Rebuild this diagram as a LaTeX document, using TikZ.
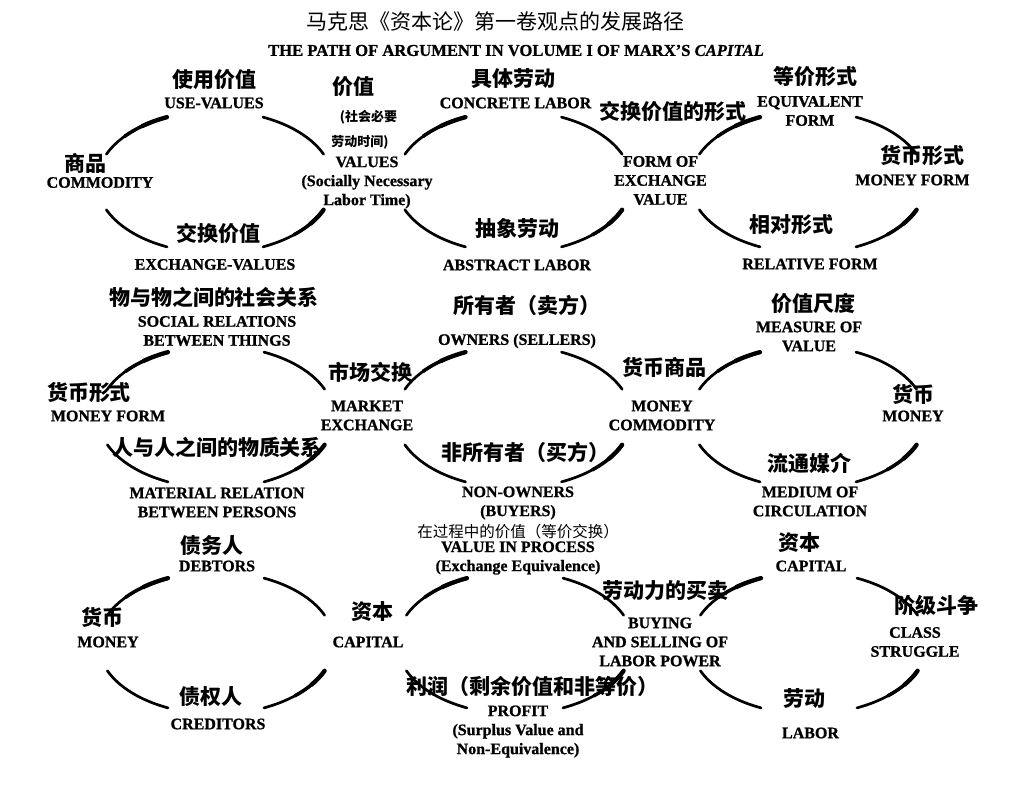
\documentclass[tikz,border=0pt]{standalone}
\usepackage{fontspec}
\setmainfont{Liberation Serif}[BoldFeatures={FakeBold=1},BoldItalicFeatures={FakeBold=1}]
\newfontfamily\cjk{Noto Sans CJK SC}
\begin{document}
\begin{tikzpicture}[x=1pt,y=-1pt,
  en/.style={font=\bfseries\fontsize{16}{19}\selectfont, align=center, inner sep=0pt},
  zh/.style={font=\cjk\bfseries\fontsize{21}{24}\selectfont, inner sep=0pt},
  zhs/.style={font=\cjk\bfseries\fontsize{13}{15}\selectfont, inner sep=0pt},
  zhr/.style={font=\cjk\fontsize{15.5}{18}\selectfont, inner sep=0pt},
  arcline/.style={line width=2.7pt, line cap=round},
  arcmid/.style={line width=3.5pt, line cap=round},
  arcthick/.style={line width=4.3pt, line cap=round}]
\useasboundingbox[fill=white] (0,0) rectangle (1029,803);

% titles
\node[font=\cjk\fontsize{21}{24}\selectfont, inner sep=0pt] (title) at (495.5,21.5) {马克思《资本论》第一卷观点的发展路径};
\node[en, font=\bfseries\fontsize{16.6}{19}\selectfont] (subtitle) at (516,50.5) {THE PATH OF ARGUMENT IN VOLUME I OF MARX’S \textit{CAPITAL}};

% ellipse arcs (brush-like strokes)
\foreach \cx/\cy in {215/182, 513.5/182, 808/182, 216/417, 513.5/417, 808/417, 216/643, 515/643, 809/643}{
  \foreach \sa/\ea in {203/246, 294/337, 23/66, 114/157}{
    \draw[arcline] plot[domain=\sa:\ea, samples=30, variable=\t] ({\cx+118*cos(\t)},{\cy+71*sin(\t)});
  }
  \draw[arcmid] plot[domain=220:246, samples=15, variable=\t] ({\cx+118*cos(\t)},{\cy+71*sin(\t)});
  \draw[arcthick] plot[domain=232:246, samples=10, variable=\t] ({\cx+118*cos(\t)},{\cy+71*sin(\t)});
  \draw[arcmid] plot[domain=23:48, samples=15, variable=\t] ({\cx+118*cos(\t)},{\cy+71*sin(\t)});
  \draw[arcthick] plot[domain=23:36, samples=10, variable=\t] ({\cx+118*cos(\t)},{\cy+71*sin(\t)});
}

% row 1
\node[zh] (zUse) at (214,80) {使用价值};
\node[en] (eUse) at (214,103) {USE-VALUES};
\node[zh] (zCom) at (85,163.5) {商品};
\node[en] (eCom) at (100,182.5) {COMMODITY};
\node[zh] (zExv) at (218.5,233.5) {交换价值};
\node[en] (eExv) at (215,264.5) {EXCHANGE-VALUES};
\node[zh] (zVal) at (353,86.5) {价值};
\node[zhs] (zVal2) at (368.5,117.5) {(社会必要};
\node[zhs] (zVal3) at (360,142.5) {劳动时间)};
\node[en] (eVal) at (367,182.5) {VALUES\\(Socially Necessary\\Labor Time)};
\node[zh] (zCon) at (513,78.5) {具体劳动};
\node[en] (eCon) at (515.5,103) {CONCRETE LABOR};
\node[zh] (zAbs) at (517.5,228.5) {抽象劳动};
\node[en] (eAbs) at (517,265) {ABSTRACT LABOR};
\node[zh] (zFor) at (672.5,111) {交换价值的形式};
\node[en] (eFor) at (660.5,180.5) {FORM OF\\EXCHANGE\\VALUE};
\node[zh] (zEqu) at (815,76.5) {等价形式};
\node[en] (eEqu) at (810,111) {EQUIVALENT\\FORM};
\node[zh] (zMf) at (922,155.5) {货币形式};
\node[en] (eMf) at (912.5,180) {MONEY FORM};
\node[zh] (zRel) at (791.5,225) {相对形式};
\node[en] (eRel) at (810,264) {RELATIVE FORM};

% row 2
\node[zh] (zSoc) at (214,297) {物与物之间的社会关系};
\node[en] (eSoc) at (217,331) {SOCIAL RELATIONS\\BETWEEN THINGS};
\node[zh] (zMf2) at (89,393) {货币形式};
\node[en] (eMf2) at (108,416) {MONEY FORM};
\node[zh] (zMkt) at (370,372) {市场交换};
\node[en] (eMkt) at (367,415.5) {MARKET\\EXCHANGE};
\node[zh] (zMat) at (217,447) {人与人之间的物质关系};
\node[en] (eMat) at (217,502.5) {MATERIAL RELATION\\BETWEEN PERSONS};
\node[zh] (zOwn) at (527,305) {所有者（卖方）};
\node[en] (eOwn) at (517,341) {OWNERS (SELLERS)};
\node[zh] (zMc) at (664,367) {货币商品};
\node[en] (eMc) at (662,415.5) {MONEY\\COMMODITY};
\node[zh] (zNon) at (525,452) {非所有者（买方）};
\node[en] (eNon) at (518,503) {NON-OWNERS\\(BUYERS)};
\node[zh] (zMea) at (813,304) {价值尺度};
\node[en] (eMea) at (809,336.5) {MEASURE OF\\VALUE};
\node[zh] (zMon) at (913,394) {货币};
\node[en] (eMon) at (913,416) {MONEY};
\node[zh] (zMed) at (809,463) {流通媒介};
\node[en] (eMed) at (810,501.5) {MEDIUM OF\\CIRCULATION};

% row 3
\node[zhr] (zVip) at (518,532) {在过程中的价值（等价交换）};
\node[en] (eVip) at (518,558) {VALUE IN PROCESS\\(Exchange Equivalence)};
\node[zh] (zBuy) at (665,591) {劳动力的买卖};
\node[en] (eBuy) at (660,642) {BUYING\\AND SELLING OF\\LABOR POWER};
\node[zh] (zPro) at (532,686) {利润（剩余价值和非等价）};
\node[en] (ePro) at (518,731.5) {PROFIT\\(Surplus Value and\\Non-Equivalence)};
\node[zh] (zCap) at (372,612) {资本};
\node[en] (eCap) at (368,642) {CAPITAL};
\node[zh] (zDeb) at (212,546) {债务人};
\node[en] (eDeb) at (217,566) {DEBTORS};
\node[zh] (zMon3) at (102,617) {货币};
\node[en] (eMon3) at (108,642) {MONEY};
\node[zh] (zCre) at (211,697) {债权人};
\node[en] (eCre) at (218,724) {CREDITORS};
\node[zh] (zCap2) at (799,543) {资本};
\node[en] (eCap2) at (811,566) {CAPITAL};
\node[zh] (zCls) at (936,605) {阶级斗争};
\node[en] (eCls) at (915,642) {CLASS\\STRUGGLE};
\node[zh] (zLab) at (804,699) {劳动};
\node[en] (eLab) at (810.5,733) {LABOR};
\end{tikzpicture}
\end{document}
